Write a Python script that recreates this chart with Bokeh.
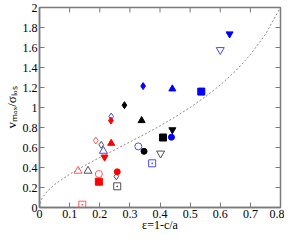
import math
from bokeh.plotting import figure
from bokeh.models import ColumnDataSource, FixedTicker, LinearAxis, Range1d
from bokeh.embed import file_html
from bokeh.resources import INLINE

# ---- data ----
eps = [0.631, 0.600, 0.441, 0.537, 0.344, 0.282, 0.238, 0.237, 0.339,
       0.187, 0.205, 0.255, 0.238, 0.212, 0.216, 0.128, 0.161, 0.197,
       0.197, 0.258, 0.258, 0.142, 0.328, 0.347, 0.410, 0.438, 0.441,
       0.402, 0.374]
vsig = [1.736, 1.576, 1.186, 1.159, 1.214, 1.023, 0.910, 0.869, 0.869,
        0.670, 0.627, 0.311, 0.642, 0.565, 0.504, 0.366, 0.366, 0.335,
        0.258, 0.357, 0.212, 0.028, 0.611, 0.562, 0.700, 0.703, 0.777,
        0.541, 0.442]
# per-point style
marker = ["inverted_triangle", "inverted_triangle", "triangle", "square", "diamond", "diamond", "diamond", "diamond", "triangle",
          "diamond", "diamond", "diamond", "triangle", "triangle", "inverted_triangle", "triangle", "triangle", "circle",
          "square", "circle", "square_dot", "square_dot", "circle", "circle", "square", "circle", "inverted_triangle",
          "inverted_triangle", "square_dot"]
group = ["b", "b", "b", "b", "b", "k", "b", "r", "k",
         "r", "k", "k", "r", "b", "r", "r", "k", "r",
         "r", "r", "k", "r", "b", "k", "k", "b", "k",
         "k", "b"]
filled = [1, 0, 1, 1, 1, 1, 0, 1, 1,
          0, 0, 0, 1, 0, 1, 0, 0, 0,
          1, 1, 0, 0, 0, 1, 1, 1, 1,
          0, 0]

# isotropic-rotator curve, values
curve_eps = [0.0, 0.005, 0.01, 0.025, 0.05, 0.1, 0.15, 0.2, 0.25, 0.3, 0.35,
             0.4, 0.45, 0.5, 0.55, 0.6, 0.65, 0.7, 0.75, 0.8]
curve_v = [0.0, 0.071, 0.10, 0.16, 0.23, 0.333, 0.42, 0.50, 0.577, 0.655, 0.734,
           0.816, 0.905, 1.0, 1.106, 1.225, 1.363, 1.528, 1.732, 2.0]

x_ticks = [0, 0.1, 0.2, 0.3, 0.4, 0.5, 0.6, 0.7, 0.8]
y_ticks = [0, 0.2, 0.4, 0.6, 0.8, 1.0, 1.2, 1.4, 1.6, 1.8, 2.0]
x_tick_labels = ["0", "0.1", "0.2", "0.3", "0.4", "0.5", "0.6", "0.7", "0.8"]
y_tick_labels = ["0", "0.2", "0.4", "0.6", "0.8", "1", "1.2", "1.4", "1.6", "1.8", "2"]

# ---- styling ----
full_col = {"b": "#0000ff", "r": "#ff0000", "k": "#000000"}
open_col = {"b": "#4a4aff", "r": "#ff5a5a", "k": "#505050"}
FONT = "Liberation Serif"
FRAME = "#7a7a7a"

lc, fa, sz = [], [], []
for g, f, m in zip(group, filled, marker):
    lc.append(full_col[g] if f else open_col[g])
    fa.append(1.0 if f else 0.0)
    base = 6 if f else 7
    if m == "square" and f:
        base = 7
    if m == "diamond" and f:
        base = 7
    if m in ("triangle", "inverted_triangle"):
        base += 1
    sz.append(base)

src = ColumnDataSource(dict(x=eps, y=vsig, marker=marker, lc=lc, fa=fa, sz=sz))

p = figure(width=284, height=234, output_backend="svg", toolbar_location=None,
           x_range=Range1d(0, 0.8), y_range=Range1d(0, 2),
           min_border_left=24, min_border_right=4, min_border_top=7,
           min_border_bottom=2, x_axis_location=None, y_axis_location=None)
p.grid.visible = False
p.outline_line_color = FRAME
p.outline_line_width = 1.5
p.background_fill_color = "white"
p.border_fill_color = "white"

p.line(curve_eps, curve_v, line_dash="2 2", line_color="#8a8a8a", line_width=1)
p.scatter("x", "y", marker="marker", source=src, size="sz",
          line_color="lc", fill_color="lc", fill_alpha="fa", line_width=1)

# mirrored inward ticks on the top and right edges
p.ray(x=x_ticks, y=[y_ticks[-1]] * len(x_ticks), length=5, length_units="screen",
      angle=-math.pi / 2, line_color=FRAME, line_width=1)
p.ray(x=[x_ticks[-1]] * len(y_ticks), y=y_ticks, length=5, length_units="screen",
      angle=math.pi, line_color=FRAME, line_width=1)


def make_axis(ticks, labels):
    ax = LinearAxis(ticker=FixedTicker(ticks=ticks))
    ax.major_label_overrides = {t: l for t, l in zip(ticks, labels)}
    ax.major_tick_in = 5
    ax.major_tick_out = 0
    ax.minor_tick_line_color = None
    ax.axis_line_color = FRAME
    ax.axis_line_width = 1.5
    ax.major_tick_line_color = FRAME
    ax.major_label_text_font = FONT
    ax.major_label_text_font_size = "12px"
    ax.major_label_text_color = "black"
    ax.major_label_standoff = 2
    ax.axis_label_text_font = FONT
    ax.axis_label_text_font_style = "normal"
    ax.axis_label_text_color = "black"
    return ax


xb = make_axis(x_ticks, x_tick_labels)
xb.axis_label = "ε=1-c/a"
xb.axis_label_text_font_size = "12px"
xb.axis_label_standoff = -3
p.add_layout(xb, "below")

yl = make_axis(y_ticks, y_tick_labels)
yl.axis_label = "vₘₐₓ/σₗₒₛ"
yl.axis_label_text_font_size = "13px"
yl.axis_label_standoff = 1
p.add_layout(yl, "left")

open("out.html", "w").write(file_html(p, INLINE))
